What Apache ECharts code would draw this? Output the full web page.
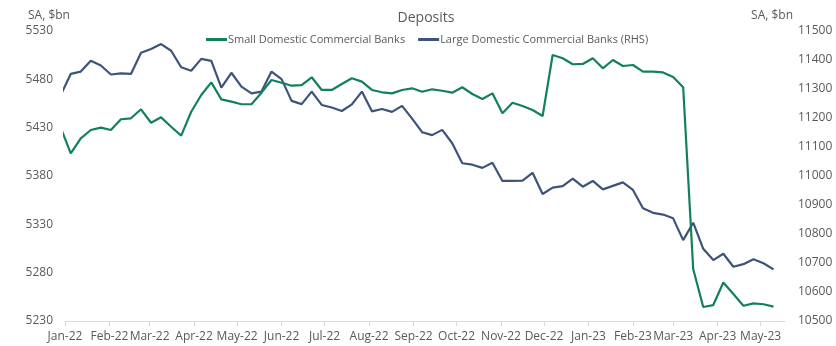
<!DOCTYPE html>
<html>
<head>
<meta charset="utf-8">
<script src="https://cdn.jsdelivr.net/npm/echarts@6/dist/echarts.min.js"></script>
<style>
  html, body { margin: 0; padding: 0; background: #ffffff; }
  #chart { width: 836px; height: 346px; }
</style>
</head>
<body>
<div id="chart"></div>
<script>
// Weekly observations (Wednesdays)
const weeks = [
  '2021-12-29',
  '2022-01-05', '2022-01-12', '2022-01-19', '2022-01-26',
  '2022-02-02', '2022-02-09', '2022-02-16', '2022-02-23',
  '2022-03-02', '2022-03-09', '2022-03-16', '2022-03-23', '2022-03-30',
  '2022-04-06', '2022-04-13', '2022-04-20', '2022-04-27',
  '2022-05-04', '2022-05-11', '2022-05-18', '2022-05-25',
  '2022-06-01', '2022-06-08', '2022-06-15', '2022-06-22', '2022-06-29',
  '2022-07-06', '2022-07-13', '2022-07-20', '2022-07-27',
  '2022-08-03', '2022-08-10', '2022-08-17', '2022-08-24', '2022-08-31',
  '2022-09-07', '2022-09-14', '2022-09-21', '2022-09-28',
  '2022-10-05', '2022-10-12', '2022-10-19', '2022-10-26',
  '2022-11-02', '2022-11-09', '2022-11-16', '2022-11-23', '2022-11-30',
  '2022-12-07', '2022-12-14', '2022-12-21', '2022-12-28',
  '2023-01-04', '2023-01-11', '2023-01-18', '2023-01-25',
  '2023-02-01', '2023-02-08', '2023-02-15', '2023-02-22',
  '2023-03-01', '2023-03-08', '2023-03-15', '2023-03-22', '2023-03-29',
  '2023-04-05', '2023-04-12', '2023-04-19', '2023-04-26',
  '2023-05-03', '2023-05-10'
];

// Small domestic commercial banks, SA, $bn (left axis)
const smallBanks = [
  5430,
  5403.5, 5419, 5427.6, 5430,
  5427.6, 5438.7, 5439.7, 5449,
  5435.1, 5440.7, 5431, 5421.7, 5446.5,
  5463.8, 5476.9, 5459.3, 5456.9,
  5454.2, 5454.2, 5466.2, 5479.3,
  5476.5, 5473.4, 5474.1, 5482.1, 5469,
  5469, 5475.2, 5481.1, 5477.6,
  5469, 5466.6, 5465.5, 5469, 5470.7,
  5467.2, 5469.7, 5468.2, 5466.2,
  5471.8, 5464.8, 5459.7, 5465.5,
  5444.9, 5455.8, 5452.4, 5448.3, 5442.1,
  5505.2, 5501.8, 5495.6, 5495.9,
  5501.8, 5491.4, 5500, 5493.8,
  5494.8, 5487.9, 5487.9, 5487.1,
  5482.4, 5471.8, 5283.8, 5244.5, 5246.5,
  5269.8, 5257.9, 5245.8, 5248.3,
  5247.3, 5244.8
];

// Large domestic commercial banks, SA, $bn (right axis)
const largeBanks = [
  11279,
  11352, 11360, 11397, 11381,
  11350, 11354, 11352, 11425,
  11438, 11455, 11432, 11375, 11363,
  11404, 11397, 11305, 11356,
  11308, 11285, 11291, 11360,
  11334, 11259, 11248, 11291, 11245,
  11236, 11224, 11247, 11291,
  11223, 11231, 11221, 11242, 11198,
  11151, 11141, 11159, 11113,
  11044, 11039, 11028, 11046,
  10983, 10983, 10984, 11011, 10938,
  10960, 10965, 10991, 10963,
  10983, 10954, 10966, 10978,
  10952, 10889, 10873, 10867,
  10854, 10779, 10839, 10749, 10710,
  10732, 10687, 10696, 10713,
  10699, 10678
];

// Month ticks on the date axis and their labels
const monthTicks = [
  '2022-01-01', '2022-02-01', '2022-03-01', '2022-04-01', '2022-05-01',
  '2022-06-01', '2022-07-01', '2022-08-01', '2022-09-01', '2022-10-01',
  '2022-11-01', '2022-12-01', '2023-01-01', '2023-02-01', '2023-03-01',
  '2023-04-01', '2023-05-01'
];
const monthLabels = [
  'Jan-22', 'Feb-22', 'Mar-22', 'Apr-22', 'May-22', 'Jun-22', 'Jul-22',
  'Aug-22', 'Sep-22', 'Oct-22', 'Nov-22', 'Dec-22', 'Jan-23', 'Feb-23',
  'Mar-23', 'Apr-23', 'May-23'
];

const seriesNames = ['Small Domestic Commercial Banks', 'Large Domestic Commercial Banks (RHS)'];
const GREEN = '#13805d';
const BLUE = '#3c5479';
const TEXT = '#595959';
const FONT = '"Open Sans", "Noto Sans", sans-serif';

const toStamp = d => new Date(d + 'T00:00:00').getTime();
const tickStamps = monthTicks.map(toStamp);

function monthLabel(value) {
  for (let i = 0; i < tickStamps.length; i++) {
    if (Math.abs(tickStamps[i] - value) < 43200000) return monthLabels[i];
  }
  return '';
}
const plainNumber = v => String(v);

const chart = echarts.init(document.getElementById('chart'), null, { renderer: 'canvas' });

chart.setOption({
  animation: false,
  backgroundColor: '#ffffff',
  textStyle: { fontFamily: FONT },
  grid: { left: 65, right: 51, top: 31, bottom: 25, containLabel: false, outerBoundsMode: 'none' },
  legend: {
    data: seriesNames,
    left: 206,
    top: 34,
    icon: 'rect',
    itemWidth: 21,
    itemHeight: 3,
    itemGap: 13,
    padding: 0,
    textStyle: { color: TEXT, fontSize: 11, fontFamily: FONT, padding: [0, 0, 0, -4] }
  },
  graphic: [
    { type: 'text', x: 426, y: 18, style: { text: 'Deposits', fill: TEXT, font: '14px ' + FONT, textAlign: 'center', textVerticalAlign: 'middle' } },
    { type: 'text', x: 28, y: 16, style: { text: 'SA, $bn', fill: TEXT, font: '12px ' + FONT, textVerticalAlign: 'middle' } },
    { type: 'text', x: 793, y: 16, style: { text: 'SA, $bn', fill: TEXT, font: '12px ' + FONT, textAlign: 'right', textVerticalAlign: 'middle' } }
  ],
  xAxis: {
    // dates as millisecond timestamps so ticks can sit on each month start
    type: 'value',
    min: toStamp('2022-01-01'),
    max: toStamp('2023-05-18'),
    axisLine: { show: true, lineStyle: { color: '#d9d9d9', width: 1 } },
    axisTick: { show: true, length: 5, lineStyle: { color: '#d9d9d9' }, customValues: tickStamps },
    axisLabel: {
      color: TEXT, fontSize: 12, fontFamily: FONT, margin: 10,
      customValues: tickStamps, hideOverlap: false, showMinLabel: true, showMaxLabel: true,
      formatter: monthLabel
    },
    splitLine: { show: false }
  },
  yAxis: [
    {
      type: 'value', min: 5230, max: 5530, interval: 50,
      axisLine: { show: false }, axisTick: { show: false }, splitLine: { show: false },
      axisLabel: { color: TEXT, fontSize: 12, fontFamily: FONT, margin: 12, formatter: plainNumber }
    },
    {
      type: 'value', min: 10500, max: 11500, interval: 100, position: 'right',
      axisLine: { show: false }, axisTick: { show: false }, splitLine: { show: false },
      axisLabel: { color: TEXT, fontSize: 12, fontFamily: FONT, margin: 13, formatter: plainNumber }
    }
  ],
  series: [
    {
      name: seriesNames[0], type: 'line', yAxisIndex: 0,
      data: weeks.map((d, i) => [toStamp(d), smallBanks[i]]),
      showSymbol: false, symbol: 'none', clip: true,
      lineStyle: { color: GREEN, width: 2.2 }, itemStyle: { color: GREEN }, z: 3
    },
    {
      name: seriesNames[1], type: 'line', yAxisIndex: 1,
      data: weeks.map((d, i) => [toStamp(d), largeBanks[i]]),
      showSymbol: false, symbol: 'none', clip: true,
      lineStyle: { color: BLUE, width: 2.2 }, itemStyle: { color: BLUE }, z: 2
    }
  ]
});
</script>
</body>
</html>
